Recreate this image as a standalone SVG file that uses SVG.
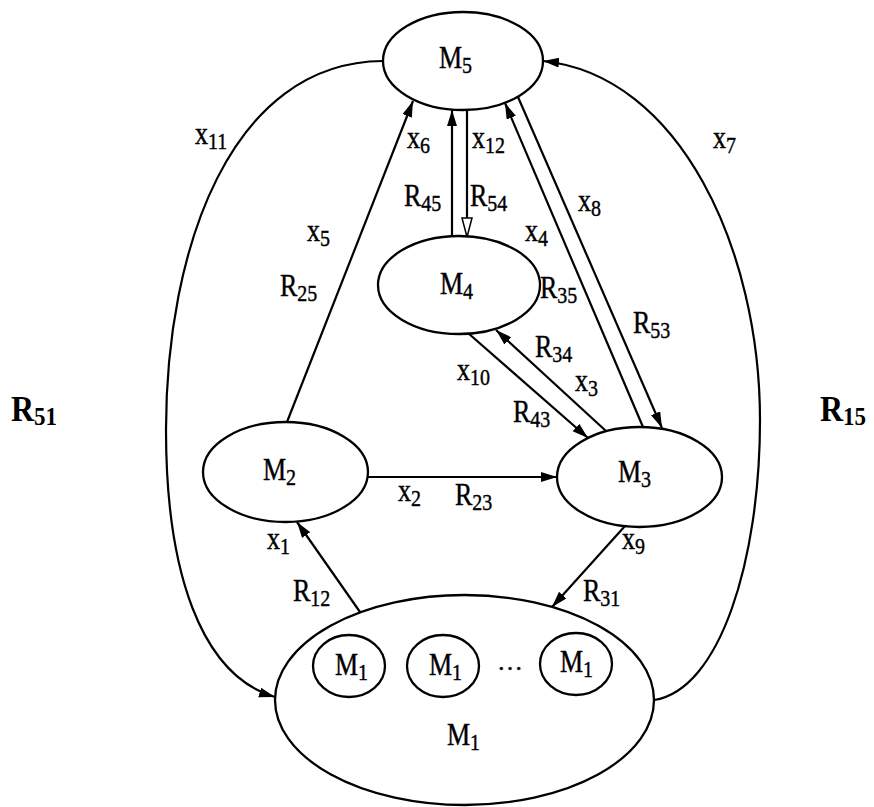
<svg xmlns="http://www.w3.org/2000/svg" width="874" height="807" viewBox="0 0 874 807">
<style>
.n{fill:#fff;stroke:#000;stroke-width:2.3}
.e{fill:none;stroke:#000;stroke-width:2.2}
.t{font-family:"Liberation Serif","Times New Roman",serif;font-size:26px;fill:#000;stroke:#000;stroke-width:0.35}
.s{font-size:20px}
.b{font-family:"Liberation Serif","Times New Roman",serif;font-size:32px;font-weight:bold;fill:#000}
.bs{font-size:23px}
</style>
<defs>
<marker id="a" markerUnits="userSpaceOnUse" markerWidth="17" markerHeight="12" refX="16" refY="5" orient="auto"><path d="M0,0 L16,5 L0,10 z" fill="#000"/></marker>
<marker id="h" markerUnits="userSpaceOnUse" markerWidth="22" markerHeight="14" refX="20" refY="6" orient="auto"><path d="M1,1 L20,6 L1,11 z" fill="#fff" stroke="#000" stroke-width="1.5"/></marker>
</defs>
<rect width="874" height="807" fill="#fff"/>
<g id="connectors">
<path class="e" d="M383,61 C230,62 166,250 166,430 C166,570 200,675 275,697" marker-end="url(#a)"/>
<path class="e" d="M654,700 C720,690 760,560 760,420 C760,250 680,75 543,61" marker-end="url(#a)"/>
<line class="e" x1="360" y1="612" x2="297" y2="522" marker-end="url(#a)"/>
<line class="e" x1="287" y1="422" x2="413" y2="101" marker-end="url(#a)"/>
<line class="e" x1="452" y1="237" x2="452" y2="110" marker-end="url(#a)"/>
<line class="e" x1="467" y1="110" x2="467" y2="237" marker-end="url(#h)"/>
<line class="e" x1="643" y1="427" x2="505" y2="103" marker-end="url(#a)"/>
<line class="e" x1="518" y1="97" x2="662" y2="428" marker-end="url(#a)"/>
<line class="e" x1="606" y1="431" x2="496" y2="330" marker-end="url(#a)"/>
<line class="e" x1="468" y1="333" x2="588" y2="438" marker-end="url(#a)"/>
<line class="e" x1="368" y1="477" x2="557" y2="477" marker-end="url(#a)"/>
<line class="e" x1="625" y1="526" x2="552" y2="607" marker-end="url(#a)"/>
</g>
<g id="M5"><ellipse class="n" cx="463" cy="61" rx="80" ry="49"/><text class="t" transform="translate(439,68) scale(1,1.2)">M<tspan class="s" dy="4">5</tspan></text></g>
<g id="M4"><ellipse class="n" cx="459" cy="285" rx="81" ry="49"/><text class="t" transform="translate(440,294) scale(1,1.2)">M<tspan class="s" dy="4">4</tspan></text></g>
<g id="M2"><ellipse class="n" cx="285.5" cy="472" rx="82.5" ry="50"/><text class="t" transform="translate(263,480) scale(1,1.2)">M<tspan class="s" dy="4">2</tspan></text></g>
<g id="M3"><ellipse class="n" cx="639.5" cy="477" rx="82.5" ry="50"/><text class="t" transform="translate(618,482) scale(1,1.2)">M<tspan class="s" dy="4">3</tspan></text></g>
<g id="M1"><ellipse class="n" cx="464.5" cy="700" rx="189.5" ry="105"/>
<ellipse class="n" cx="349" cy="666" rx="36" ry="31"/><text class="t" transform="translate(335,675) scale(1,1.2)">M<tspan class="s" dy="4">1</tspan></text>
<ellipse class="n" cx="443" cy="666" rx="36" ry="31"/><text class="t" transform="translate(429,675) scale(1,1.2)">M<tspan class="s" dy="4">1</tspan></text>
<text class="t" x="497" y="670">…</text>
<ellipse class="n" cx="576" cy="664" rx="36" ry="31"/><text class="t" transform="translate(560,672) scale(1,1.2)">M<tspan class="s" dy="4">1</tspan></text>
<text class="t" transform="translate(447,745) scale(1,1.2)">M<tspan class="s" dy="4">1</tspan></text></g>
<g id="labels">
<text class="t" transform="translate(195,144) scale(1,1.2)">x<tspan class="s" dy="4">11</tspan></text>
<text class="t" transform="translate(407,148) scale(1,1.2)">x<tspan class="s" dy="4">6</tspan></text>
<text class="t" transform="translate(472,148) scale(1,1.2)">x<tspan class="s" dy="4">12</tspan></text>
<text class="t" transform="translate(713,148) scale(1,1.2)">x<tspan class="s" dy="4">7</tspan></text>
<text class="t" transform="translate(404,206) scale(1,1.2)">R<tspan class="s" dy="4">45</tspan></text>
<text class="t" transform="translate(470,206) scale(1,1.2)">R<tspan class="s" dy="4">54</tspan></text>
<text class="t" transform="translate(578,211) scale(1,1.2)">x<tspan class="s" dy="4">8</tspan></text>
<text class="t" transform="translate(307,241) scale(1,1.2)">x<tspan class="s" dy="4">5</tspan></text>
<text class="t" transform="translate(525,241) scale(1,1.2)">x<tspan class="s" dy="4">4</tspan></text>
<text class="t" transform="translate(280,296) scale(1,1.2)">R<tspan class="s" dy="4">25</tspan></text>
<text class="t" transform="translate(540,298) scale(1,1.2)">R<tspan class="s" dy="4">35</tspan></text>
<text class="t" transform="translate(633,333) scale(1,1.2)">R<tspan class="s" dy="4">53</tspan></text>
<text class="t" transform="translate(535,357) scale(1,1.2)">R<tspan class="s" dy="4">34</tspan></text>
<text class="t" transform="translate(457,380) scale(1,1.2)">x<tspan class="s" dy="4">10</tspan></text>
<text class="t" transform="translate(575,391) scale(1,1.2)">x<tspan class="s" dy="4">3</tspan></text>
<text class="t" transform="translate(513,422) scale(1,1.2)">R<tspan class="s" dy="4">43</tspan></text>
<text class="b" transform="translate(11,421) scale(1,1.1)">R<tspan class="bs" dy="4">51</tspan></text>
<text class="b" transform="translate(820,421) scale(1,1.1)">R<tspan class="bs" dy="4">15</tspan></text>
<text class="t" transform="translate(398,501) scale(1,1.2)">x<tspan class="s" dy="4">2</tspan></text>
<text class="t" transform="translate(455,505) scale(1,1.2)">R<tspan class="s" dy="4">23</tspan></text>
<text class="t" transform="translate(267,549) scale(1,1.2)">x<tspan class="s" dy="4">1</tspan></text>
<text class="t" transform="translate(622,549) scale(1,1.2)">x<tspan class="s" dy="4">9</tspan></text>
<text class="t" transform="translate(293,601) scale(1,1.2)">R<tspan class="s" dy="4">12</tspan></text>
<text class="t" transform="translate(583,601) scale(1,1.2)">R<tspan class="s" dy="4">31</tspan></text>
</g>
</svg>
